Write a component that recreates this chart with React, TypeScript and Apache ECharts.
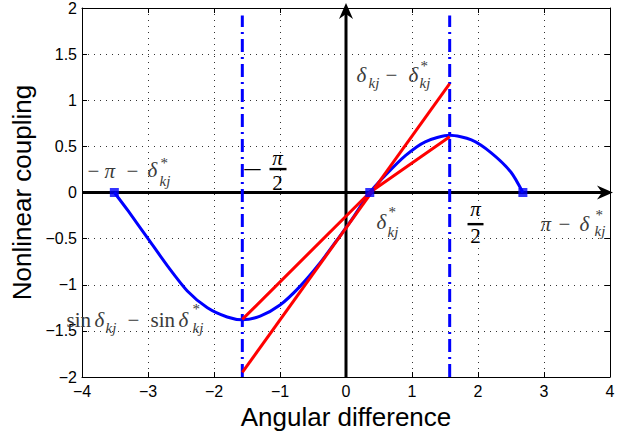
import React, { useEffect, useRef } from "react";
import * as echarts from "echarts";

// ---- data ----
const curveX = [-3.51, -3.3, -3.0, -2.7, -2.4, -2.1, -1.8, -1.571, -1.3, -1.0, -0.7, -0.4, -0.1, 0.1, 0.36, 0.6, 0.9, 1.2, 1.571, 1.9, 2.2, 2.5, 2.68];
const curveY = [0, -0.2, -0.5, -0.8, -1.07, -1.25, -1.35, -1.38, -1.34, -1.22, -1.02, -0.77, -0.48, -0.28, 0, 0.19, 0.4, 0.55, 0.62, 0.57, 0.43, 0.22, 0];

const redAX = [-1.571, 1.571];
const redAY = [-1.95, 1.18];

const redBX = [-1.571, 0.36, 1.571];
const redBY = [-1.376, 0, 0.604];

const squareX = [-3.51, 0.36, 2.68];
const squareY = [0, 0, 0];

const vLineX = [-1.571, 1.571];
const vLineY = [-2, 1.92];

// axis arrows: from / to
const arrowFrom = [[-4, 0], [0, -2]];
const arrowTo = [[4.045, 0], [0, 2.054]];

// annotation anchors (data coords)
const labelX = [-3.917, -1.568, 0.159, 0.462, 1.841, 2.947, -4.235];
const labelY = [0.232, 0.254, 1.273, -0.323, -0.343, -0.34, -1.384];

const xTitle = "Angular difference";
const yTitle = "Nonlinear coupling";

// ---- label layouts (styling) ----
type Piece = { t?: string; dx: number; dy: number; s?: number; it?: boolean; al?: string; c?: string; sx?: number; bar?: number };
const G = "#3a3a3a";
const labelPieces: Piece[][] = [
  [
    { t: "−", dx: 0, dy: 0 },
    { t: "π", dx: 17, dy: 0, it: true },
    { t: "−", dx: 39, dy: 0 },
    { t: "δ", dx: 60, dy: -1, it: true },
    { t: "*", dx: 73, dy: -8, s: 15 },
    { t: "kj", dx: 72, dy: 10, s: 15, it: true },
  ],
  [
    { t: "−", dx: 0, dy: 0, s: 22, sx: 1.6, c: "#000" },
    { t: "π", dx: 35, dy: -11, it: true, al: "center", c: "#000" },
    { dx: 27, dy: 0, bar: 17, c: "#000" },
    { t: "2", dx: 35, dy: 14, al: "center", c: "#000" },
  ],
  [
    { t: "δ", dx: 0, dy: 0, it: true },
    { t: "kj", dx: 12, dy: 8, s: 15, it: true },
    { t: "−", dx: 29, dy: 0 },
    { t: "δ", dx: 52, dy: 0, it: true },
    { t: "*", dx: 64, dy: -9, s: 15 },
    { t: "kj", dx: 63, dy: 8, s: 15, it: true },
  ],
  [
    { t: "δ", dx: 0, dy: 0, it: true },
    { t: "*", dx: 12, dy: -10, s: 15 },
    { t: "kj", dx: 11, dy: 10, s: 15, it: true },
  ],
  [
    { t: "π", dx: 8, dy: -15, it: true, al: "center", c: "#000" },
    { dx: 0, dy: 0, bar: 16, c: "#000" },
    { t: "2", dx: 8, dy: 12, al: "center", c: "#000" },
  ],
  [
    { t: "π", dx: 0, dy: 0, it: true },
    { t: "−", dx: 18, dy: 0 },
    { t: "δ", dx: 39, dy: 0, it: true },
    { t: "*", dx: 55, dy: -9, s: 15 },
    { t: "kj", dx: 54, dy: 7, s: 15, it: true },
  ],
  [
    { t: "sin", dx: 0, dy: 0 },
    { t: "δ", dx: 28, dy: 0, it: true },
    { t: "kj", dx: 39, dy: 8, s: 15, it: true },
    { t: "−", dx: 61, dy: 0 },
    { t: "sin", dx: 84, dy: 0 },
    { t: "δ", dx: 112, dy: 0, it: true },
    { t: "*", dx: 126, dy: -11, s: 15 },
    { t: "kj", dx: 126, dy: 8, s: 15, it: true },
  ],
];

const minusFmt = (v: number) => (v < 0 ? "−" + String(-v) : String(v));

export default function App() {
  const ref = useRef<HTMLDivElement>(null);
  useEffect(() => {
    const chart = echarts.init(ref.current!, null, { renderer: "svg" });
    const sansFont = "Liberation Sans";
    const serif = "Liberation Serif";

    const baseX = {
      type: "value",
      min: -4,
      max: 4,
      interval: 1,
      axisLine: { show: true, onZero: false, lineStyle: { color: "#000", width: 1 } },
      axisTick: { show: true, inside: true, length: 5, lineStyle: { color: "#000" } },
    };
    const baseY = {
      type: "value",
      min: -2,
      max: 2,
      interval: 0.5,
      axisLine: { show: true, onZero: false, lineStyle: { color: "#000", width: 1 } },
      axisTick: { show: true, inside: true, length: 5, lineStyle: { color: "#000" } },
    };

    const option: any = {
      animation: false,
      backgroundColor: "#fff",
      grid: { left: 82, right: 14, top: 8, bottom: 60, containLabel: false },
      xAxis: [
        {
          ...baseX,
          position: "bottom",
          axisLabel: { color: "#000", fontSize: 16, fontFamily: sansFont, margin: 6, formatter: minusFmt },
          splitLine: { show: true, lineStyle: { color: "#333", width: 1, type: [1, 5] } },
          name: xTitle,
          nameLocation: "middle",
          nameGap: 25,
          nameTextStyle: { color: "#000", fontSize: 26, fontFamily: sansFont },
        },
        { ...baseX, position: "top", axisLabel: { show: false }, splitLine: { show: false } },
      ],
      yAxis: [
        {
          ...baseY,
          position: "left",
          axisLabel: { color: "#000", fontSize: 16, fontFamily: sansFont, margin: 5, formatter: minusFmt },
          splitLine: { show: true, lineStyle: { color: "#333", width: 1, type: [1, 5] } },
          name: yTitle,
          nameLocation: "middle",
          nameGap: 44,
          nameTextStyle: { color: "#000", fontSize: 26, fontFamily: sansFont },
        },
        { ...baseY, position: "right", axisLabel: { show: false }, splitLine: { show: false } },
      ],
      series: [
        {
          type: "custom",
          name: "axes",
          z: 1,
          clip: false,
          silent: true,
          encode: { x: [0, 2], y: [1, 3] },
          data: arrowFrom.map((f, i) => [f[0], f[1], arrowTo[i][0], arrowTo[i][1]]),
          renderItem: (params: any, api: any) => {
            const s = api.coord([api.value(0), api.value(1)]);
            const e = api.coord([api.value(2), api.value(3)]);
            const dx = e[0] - s[0];
            const dy = e[1] - s[1];
            const len = Math.hypot(dx, dy);
            const ux = dx / len;
            const uy = dy / len;
            const nx = -uy;
            const ny = ux;
            const L = 16;
            const W = 7;
            const N = 11;
            const bx = e[0] - ux * L;
            const by = e[1] - uy * L;
            const ncx = e[0] - ux * N;
            const ncy = e[1] - uy * N;
            return {
              type: "group",
              children: [
                { type: "line", shape: { x1: s[0], y1: s[1], x2: ncx, y2: ncy }, style: { stroke: "#000", lineWidth: 3 } },
                {
                  type: "polygon",
                  shape: { points: [[e[0], e[1]], [bx + nx * W, by + ny * W], [ncx, ncy], [bx - nx * W, by - ny * W]] },
                  style: { fill: "#000" },
                },
              ],
            };
          },
        },
        ...vLineX.map((x) => ({
          type: "line",
          z: 2,
          symbol: "none",
          silent: true,
          data: vLineY.map((y) => [x, y]),
          lineStyle: { color: "#0000ff", width: 3, type: [13, 5, 2, 5] },
        })),
        {
          type: "line",
          z: 3,
          symbol: "none",
          silent: true,
          smooth: 0.25,
          data: curveX.map((x, i) => [x, curveY[i]]),
          lineStyle: { color: "#0000ff", width: 3 },
        },
        {
          type: "line",
          z: 4,
          symbol: "none",
          silent: true,
          data: redAX.map((x, i) => [x, redAY[i]]),
          lineStyle: { color: "#ff0000", width: 3 },
        },
        {
          type: "line",
          z: 4,
          symbol: "none",
          silent: true,
          data: redBX.map((x, i) => [x, redBY[i]]),
          lineStyle: { color: "#ff0000", width: 3 },
        },
        {
          type: "scatter",
          z: 5,
          symbol: "rect",
          symbolSize: 9,
          silent: true,
          itemStyle: { color: "#0000ff" },
          data: squareX.map((x, i) => [x, squareY[i]]),
        },
        {
          type: "custom",
          name: "labels",
          z: 6,
          clip: false,
          silent: true,
          encode: { x: 0, y: 1 },
          data: labelX.map((x, i) => [x, labelY[i], i]),
          renderItem: (params: any, api: any) => {
            const p = api.coord([api.value(0), api.value(1)]);
            const pieces = labelPieces[api.value(2)];
            const children = pieces.map((pc) => {
              if (pc.bar) {
                return {
                  type: "rect",
                  x: pc.dx,
                  y: pc.dy - 1.2,
                  shape: { x: 0, y: 0, width: pc.bar, height: 2.4 },
                  style: { fill: pc.c || G },
                };
              }
              return {
                type: "text",
                x: pc.dx,
                y: pc.dy,
                scaleX: pc.sx || 1,
                style: {
                  text: pc.t,
                  fill: pc.c || G,
                  fontSize: pc.s || 21,
                  fontFamily: serif,
                  fontStyle: pc.it ? "italic" : "normal",
                  align: pc.al || "left",
                  verticalAlign: "middle",
                },
              };
            });
            return { type: "group", x: p[0], y: p[1], children };
          },
        },
      ],
    };
    chart.setOption(option);
    return () => chart.dispose();
  }, []);
  return (
    <div
      ref={ref}
      style={{ position: "fixed", left: 0, top: 0, width: 624, height: 437, background: "#fff" }}
    />
  );
}
